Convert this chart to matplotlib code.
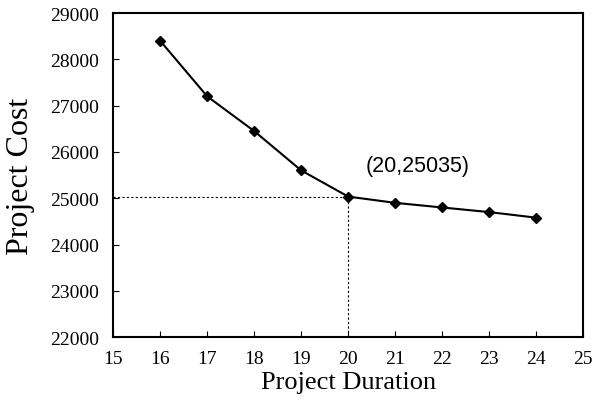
import numpy as np
import matplotlib

matplotlib.use("Agg")
import matplotlib.pyplot as plt

# ---------------------------------------------------------------------------
# Data
# ---------------------------------------------------------------------------
duration = [16, 17, 18, 19, 20, 21, 22, 23, 24]
cost = [28400, 27200, 26450, 25600, 25035, 24900, 24800, 24700, 24580]

x_ticks = [15, 16, 17, 18, 19, 20, 21, 22, 23, 24, 25]
y_ticks = [22000, 23000, 24000, 25000, 26000, 27000, 28000, 29000]

opt_x = 20
opt_y = 25035
opt_label = "(20,25035)"


def main() -> None:
    fig = plt.figure(figsize=(6.12, 4.02), dpi=100)
    ax = fig.add_axes([0.185, 0.159, 0.768, 0.806])

    # --- cost-duration curve --------------------------------------------
    ax.plot(duration, cost, color="black", linewidth=1.5,
            marker="D", markersize=5, markerfacecolor="black")

    # --- dotted guides to the optimum point -----------------------------
    ax.plot([x_ticks[0], opt_x], [opt_y, opt_y], color="black",
            linewidth=0.8, linestyle=(0, (2, 2)))
    ax.plot([opt_x, opt_x], [y_ticks[0], opt_y], color="black",
            linewidth=0.8, linestyle=(0, (2, 2)))

    ax.text(20.36, 25700, opt_label, fontsize=15.5,
            family="Liberation Sans", va="center", ha="left")

    # --- axes styling ---------------------------------------------------
    ax.set_xlim(x_ticks[0], x_ticks[-1])
    ax.set_ylim(y_ticks[0], y_ticks[-1])
    ax.set_xticks(x_ticks)
    ax.set_yticks(y_ticks)
    ax.tick_params(direction="in", length=4, width=0.8, labelsize=14)
    ax.tick_params(axis="x", pad=9)
    ax.tick_params(axis="y", pad=10)
    for lab in ax.get_xticklabels() + ax.get_yticklabels():
        lab.set_family("Liberation Serif")
    for spine in ax.spines.values():
        spine.set_linewidth(1.5)

    ax.set_xlabel("Project Duration", family="Liberation Serif",
                  fontsize=19, labelpad=3)
    ax.set_ylabel("Project Cost", family="Liberation Serif",
                  fontsize=23, labelpad=11)

    fig.savefig("out.png", dpi=100)


if __name__ == "__main__":
    main()
